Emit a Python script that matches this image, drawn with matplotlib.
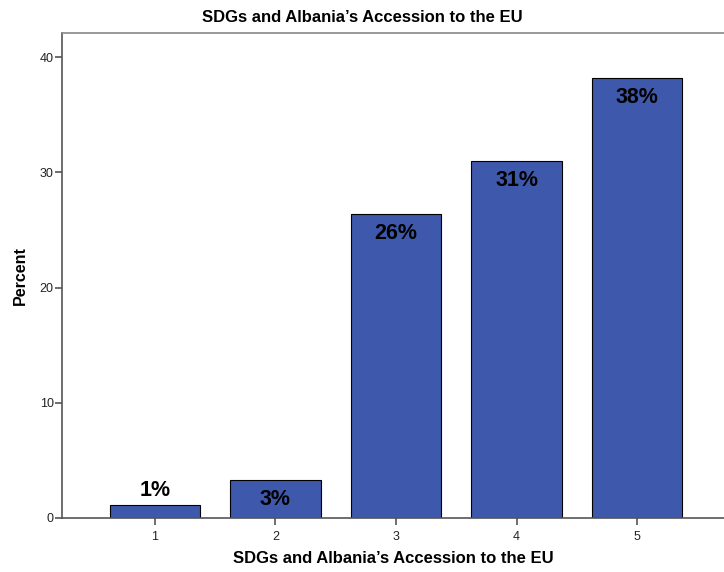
import matplotlib.pyplot as plt

plt.rcParams['font.family'] = ['Liberation Sans', 'DejaVu Sans']

categories = [1, 2, 3, 4, 5]
percent = [1.1, 3.3, 26.4, 31.0, 38.2]

bar_color = "#3E58AB"
spine_color = "#555555"

fig = plt.figure(figsize=(7.24, 5.72), dpi=100)
ax = fig.add_axes([62 / 724, 54 / 572, 1 - 62 / 724, 485 / 572])

bars = ax.bar(categories, percent, width=0.75, color=bar_color,
              edgecolor="black", linewidth=0.8, zorder=2)

# value labels: inside the top of the bar, above it when the bar is too short
for rect, v in zip(bars, percent):
    x = rect.get_x() + rect.get_width() / 2
    off = 11 if v < 2 else -14
    ax.annotate(f"{v:.0f}%", (x, v), xytext=(0, off), textcoords="offset points",
                ha="center", va="center", fontsize=15.5, fontweight="bold",
                color="black")

ax.set_xlim(0.23, 5.72)
ax.set_ylim(0, 42.1)
ax.set_xticks(categories)
ax.set_yticks([0, 10, 20, 30, 40])

ax.spines['right'].set_visible(False)
for side in ['left', 'bottom', 'top']:
    ax.spines[side].set_color(spine_color)
    ax.spines[side].set_linewidth(1.2)
ax.spines['top'].set_color("#888888")

ax.tick_params(axis='both', direction='out', length=5, width=1.2,
               color=spine_color, labelsize=9, labelcolor="#222222")
ax.tick_params(axis='x', pad=4)
ax.tick_params(axis='y', pad=1)

ax.set_ylabel("Percent", fontsize=11.5, fontweight="bold")
ax.yaxis.set_label_coords(-0.052, 0.5)
ax.set_xlabel("SDGs and Albania\u2019s Accession to the EU", fontsize=12,
              fontweight="bold")
ax.xaxis.set_label_coords(0.5, -0.068)
fig.text(0.5, 1 - 17 / 572, "SDGs and Albania\u2019s Accession to the EU",
         ha="center", va="center", fontsize=12, fontweight="bold")

fig.savefig("out.png", dpi=100)
